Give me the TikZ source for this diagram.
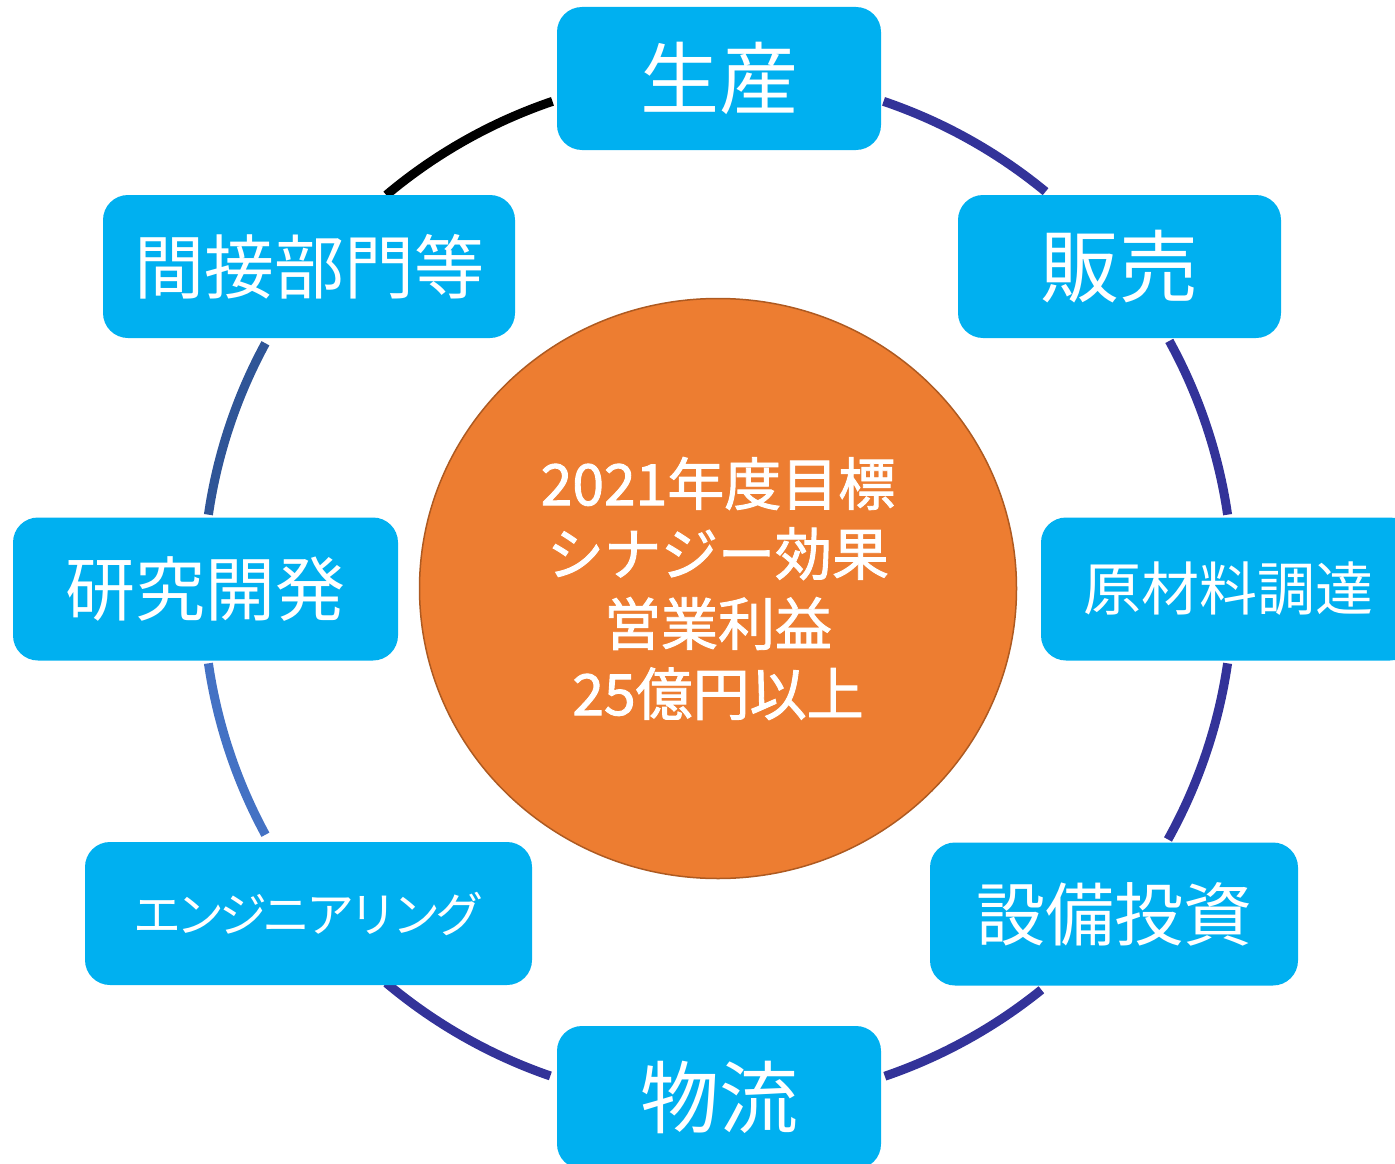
\documentclass[tikz,border=0pt]{standalone}
\usepackage{fontspec}
\newfontfamily\jp{Noto Sans CJK JP}
\newfontfamily\jpmid{Noto Sans CJK JP}[FakeBold=1.6]
\newfontfamily\jpprop{Noto Sans CJK JP}[LetterSpace=-10]
\usetikzlibrary{shapes.geometric}
\definecolor{boxblue}{RGB}{0,176,240}
\definecolor{navy}{RGB}{51,51,153}
\definecolor{midblue}{RGB}{47,85,151}
\definecolor{liteblue}{RGB}{68,114,196}
\definecolor{orangefill}{RGB}{237,125,49}
\definecolor{orangeedge}{RGB}{174,90,33}
\tikzset{
  unitbox/.style={draw=none, fill=boxblue, rounded corners=25pt, minimum height=143pt,
    inner sep=0pt, text=white, font=\jp},
  ringarc/.style={line width=9pt},
}
\begin{document}
\begin{tikzpicture}[x=1pt,y=1pt]
\useasboundingbox (0,0) rectangle (1395,-1164);
\coordinate (C) at (718,-589);
% ring arcs
\draw[ringarc, black]    ([shift={(108.75:515)}]C) arc[start angle=108.75, end angle=130.1, radius=515pt];
\draw[ringarc, navy]     ([shift={(71.25:515)}]C) arc[start angle=71.25, end angle=50.5, radius=515pt];
\draw[ringarc, navy]     ([shift={(28.8:515)}]C) arc[start angle=28.8, end angle=8.3, radius=515pt];
\draw[ringarc, navy]     ([shift={(-8.3:515)}]C) arc[start angle=-8.3, end angle=-29.1, radius=515pt];
\draw[ringarc, navy]     ([shift={(-51.1:515)}]C) arc[start angle=-51.1, end angle=-71.1, radius=515pt];
\draw[ringarc, navy]     ([shift={(-109:515)}]C) arc[start angle=-109, end angle=-130.1, radius=515pt];
\draw[ringarc, liteblue] ([shift={(-151.5:515)}]C) arc[start angle=-151.5, end angle=-171.7, radius=515pt];
\draw[ringarc, midblue]  ([shift={(171.7:515)}]C) arc[start angle=171.7, end angle=151.5, radius=515pt];
% center circle
\node[ellipse, draw=orangeedge, line width=1.5pt, fill=orangefill, minimum width=597pt,
  minimum height=580pt, inner sep=0pt, text=white, align=center,
  font=\jpmid\fontsize{57}{70}\selectfont] (goal) at (718,-588.5)
  {2021年度目標\\シナジー効果\\営業利益\\25億円以上};
% boxes
\node[unitbox, minimum width=324pt, font=\jp\fontsize{79}{90}\selectfont] (seisan) at (719,-78.5) {生産};
\node[unitbox, minimum width=323pt, font=\jp\fontsize{79}{90}\selectfont] (hanbai) at (1119.5,-266.5) {販売};
\node[unitbox, minimum width=374pt, font=\jp\fontsize{58}{70}\selectfont] (genzai) at (1228,-589) {原材料調達};
\node[unitbox, minimum width=368pt, font=\jp\fontsize{69}{80}\selectfont] (setsubi) at (1114,-914) {設備投資};
\node[unitbox, minimum width=324pt, font=\jp\fontsize{79}{90}\selectfont] (butsuryu) at (719,-1097.5) {物流};
\node[unitbox, minimum width=447pt, font=\jpprop\fontsize{48}{56}\selectfont] (eng) at (308.5,-913.5) {エンジニアリング};
\node[unitbox, minimum width=385pt, font=\jp\fontsize{70}{80}\selectfont] (kenkyu) at (205.5,-589) {研究開発};
\node[unitbox, minimum width=412pt, font=\jp\fontsize{70}{80}\selectfont] (kansetsu) at (309,-266.5) {間接部門等};
\end{tikzpicture}
\end{document}
